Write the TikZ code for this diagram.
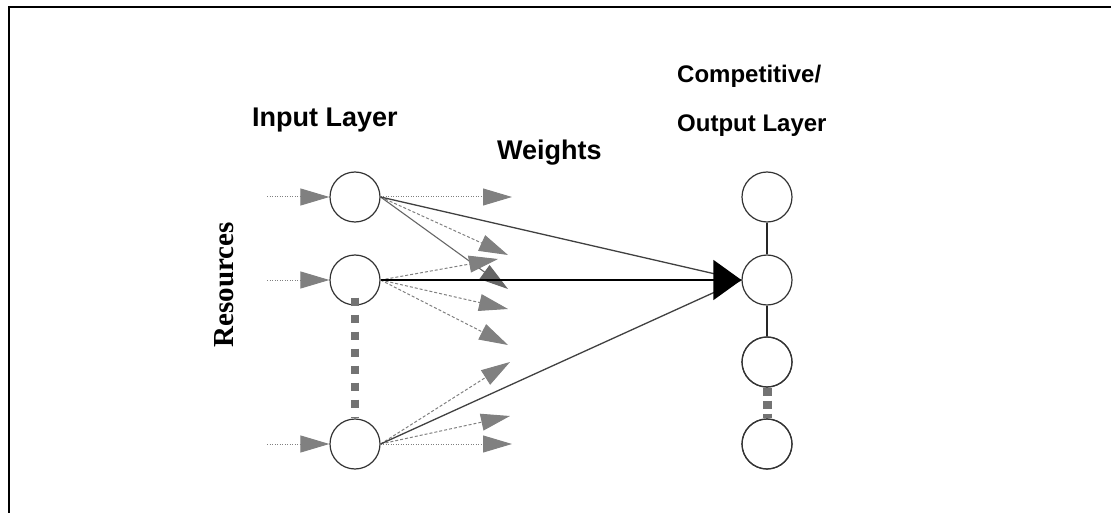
\documentclass[tikz,border=0pt]{standalone}
\usepackage{fontspec}
\setmainfont{Liberation Sans}
\newfontfamily\serifbold{Liberation Serif}
\usetikzlibrary{arrows.meta}

\tikzset{
  neuron/.style={circle, draw=black!80, line width=1.2pt, minimum size=50pt, inner sep=0pt, fill=white},
  label/.style={font=\bfseries\fontsize{27}{32}\selectfont, inner sep=0pt, anchor=base west},
  smalllabel/.style={font=\bfseries\fontsize{24}{28}\selectfont, inner sep=0pt, anchor=base west},
  tipgray/.style={-{Triangle[length=29pt,width=17pt]}},
  faint/.style={draw=black!50, line width=1pt},
  dots/.style={faint, dash pattern=on 1.2pt off 1.3pt, tipgray},
  dashes/.style={faint, dash pattern=on 3pt off 2pt, tipgray},
  graysolid/.style={draw=black!60, line width=1.1pt, tipgray},
  link/.style={draw=black!85, line width=1.3pt},
  blocks/.style={draw=black!55, line width=8pt},
}

\begin{document}
\begin{tikzpicture}[x=1pt, y={(0pt,-1pt)}]
\useasboundingbox (0,0) rectangle (1111,513);

% frame (top and left edges)
\draw[line width=2.5pt, black] (9,513) -- (9,7) -- (1111,7);

% labels
\node[label] (linput) at (252,127) {Input Layer};
\node[label] (lweights) at (497,160) {Weights};
\node[smalllabel] (lcomp) at (677,83) {Competitive/};
\node[smalllabel] (lout) at (677,132) {Output Layer};
\node[font=\serifbold\bfseries\fontsize{29}{32}\selectfont, rotate=90, inner sep=0pt] (lres) at (224,285) {Resources};

% input layer
\node[neuron] (in1) at (355,197) {};
\node[neuron] (in2) at (355,280) {};
\node[neuron] (in3) at (355,444) {};

% competitive / output layer
\node[neuron] (out1) at (767,197) {};
\node[neuron] (out2) at (767,280) {};
\node[neuron] (out3) at (767,362) {};
\node[neuron] (out4) at (767,444) {};

% resource inputs
\coordinate (r1) at (267,197);
\coordinate (r2) at (267,280);
\coordinate (r3) at (267,444);
\draw[dots] (r1) -- (in1.west);
\draw[dots] (r2) -- (in2.west);
\draw[dots] (r3) -- (in3.west);

% omitted input neurons
\coordinate (g1) at ([yshift=8pt]in2.south);
\draw[blocks, dash pattern=on 8pt off 9pt] (g1) -- (in3.north);

% weight ends
\coordinate (w1) at (512,197);
\coordinate (w2) at (508,255);
\coordinate (w3) at (508,289);
\coordinate (w4) at (498,259);
\coordinate (w5) at (508,309);
\coordinate (w6) at (508,345);
\coordinate (w7) at (510,362);
\coordinate (w8) at (510,416);
\coordinate (w9) at (512,444);

\draw[dots] (in1.east) -- (w1);
\draw[dashes] (in1.east) -- (w2);
\draw[graysolid] (in1.east) -- (w3);
\draw[dashes] (in2.east) -- (w4);
\draw[dashes] (in2.east) -- (w5);
\draw[dashes] (in2.east) -- (w6);
\draw[dashes] (in3.east) -- (w7);
\draw[dashes] (in3.east) -- (w8);
\draw[dots] (in3.east) -- (w9);

% winning connections
\draw[draw=black!75, line width=1.3pt] (in1.east) -- (out2.west);
\draw[draw=black!75, line width=1.3pt] (in3.east) -- (out2.west);
\draw[draw=black, line width=1.3pt, -{Triangle[length=28pt,width=40pt]}] (in2.east) -- (out2.west);

% output layer links
\draw[link] (out1) -- (out2);
\draw[link] (out2) -- (out3);
\draw[blocks, line width=9pt, dash pattern=on 8pt off 5pt] (out3.south) -- (out4.north);
\node[neuron, fill=none] (out3b) at (out3) {};
\node[neuron, fill=none] (out4b) at (out4) {};
\end{tikzpicture}
\end{document}
